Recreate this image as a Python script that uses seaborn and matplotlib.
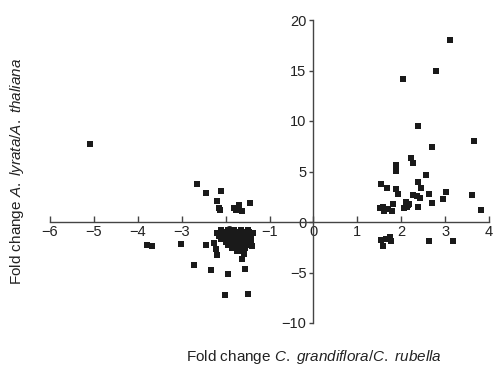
import numpy as np
import pandas as pd
import matplotlib
matplotlib.use("Agg")
import matplotlib.pyplot as plt
import seaborn as sns

# --- DATA ---
# left side, scattered points
left_x = [-5.08, -3.80, -3.67, -3.01, -2.66, -2.44, -2.10, -2.19, -2.14, -2.12,
          -1.81, -1.69, -1.63, -1.45, -1.76,
          -2.44, -2.27, -2.22, -2.19, -2.73, -2.33, -1.94, -1.56, -1.62, -2.02,
          -1.49, -1.59, -1.40]
left_y = [7.7, -2.24, -2.41, -2.18, 3.74, 2.91, 3.04, 2.08, 1.43, 1.2,
          1.43, 1.66, 1.09, 1.92, 1.2,
          -2.31, -2.08, -2.64, -3.23, -4.22, -4.79, -5.12, -4.66, -3.70, -7.2,
          -7.14, -3.14, -2.41]

# dense cluster just below the x axis
blob_x = [-2.10, -1.95, -1.80, -1.65, -1.50,
          -2.20, -2.05, -1.90, -1.75, -1.60, -1.45, -1.38,
          -2.15, -2.00, -1.85, -1.70, -1.55, -1.42,
          -2.10, -1.95, -1.80, -1.65, -1.50,
          -2.00, -1.85, -1.70, -1.55, -1.42,
          -1.95, -1.80, -1.65, -1.50,
          -1.85, -1.70, -1.55,
          -1.75, -1.62,
          -2.02, -1.88, -1.72, -1.58, -1.47, -2.12, -1.97, -1.82, -1.67,
          -1.52, -1.90, -1.76, -1.61, -1.78, -1.64]
blob_y = [-0.8, -0.8, -0.8, -0.8, -0.8,
          -1.1, -1.1, -1.1, -1.1, -1.1, -1.1, -1.1,
          -1.4, -1.4, -1.4, -1.4, -1.4, -1.4,
          -1.7, -1.7, -1.7, -1.7, -1.7,
          -2.0, -2.0, -2.0, -2.0, -2.0,
          -2.3, -2.3, -2.3, -2.3,
          -2.6, -2.6, -2.6,
          -2.9, -2.9,
          -0.95, -0.95, -0.95, -0.95, -0.95, -1.25, -1.25, -1.25, -1.25,
          -1.55, -1.85, -1.85, -1.85, -2.15, -2.45]

# right side
right_x = [3.11, 2.79, 2.04, 2.38, 3.66, 2.70, 2.22, 2.27, 1.88, 1.88,
           2.57, 2.38, 1.53, 1.68, 1.88, 2.45, 1.92, 2.26, 2.37, 2.43,
           2.63, 3.02, 2.95, 3.62, 2.70, 3.82, 2.38,
           1.59, 1.52, 1.61, 1.79, 1.81, 1.71,
           2.10, 2.18, 2.07, 2.13, 2.16,
           1.53, 1.59, 1.66, 1.75, 1.76, 2.64, 3.18]
right_y = [18.0, 14.94, 14.14, 9.48, 8.0, 7.43, 6.34, 5.82, 5.65, 5.05,
           4.66, 3.96, 3.77, 3.37, 3.27, 3.34, 2.77, 2.71, 2.55, 2.38,
           2.75, 2.97, 2.25, 2.65, 1.88, 1.16, 1.46,
           1.49, 1.43, 1.06, 1.13, 1.82, 1.33,
           1.95, 1.75, 1.43, 1.49, 1.69,
           -1.74, -2.41, -1.65, -1.49, -1.88, -1.88, -1.88]

x_ticks = [-6, -5, -4, -3, -2, -1, 0, 1, 2, 3, 4]
y_ticks = [-10, -5, 0, 5, 10, 15, 20]

df = pd.DataFrame({
    "x": left_x + blob_x + right_x,
    "y": left_y + blob_y + right_y,
})

sns.set_style("ticks")
plt.rcParams["font.family"] = ["Liberation Sans", "DejaVu Sans"]
plt.rcParams["mathtext.fontset"] = "custom"
plt.rcParams["mathtext.rm"] = "Liberation Sans"
plt.rcParams["mathtext.it"] = "Liberation Sans:italic"

fig = plt.figure(figsize=(4.94, 3.66), dpi=100)
ax = fig.add_axes([50 / 494, 1 - 323 / 366, 439 / 494, 303 / 366])

sns.scatterplot(data=df, x="x", y="y", ax=ax, marker="s", s=22,
                color="#1a1a1a", linewidth=0, legend=False)

ax.set_xlim(-6, 4)
ax.set_ylim(-10, 20)
ax.set_xticks(x_ticks)
ax.set_yticks(y_ticks)
ax.set_xticklabels(["\u2212" + str(-t) if t < 0 else str(t) for t in x_ticks])
ax.set_yticklabels(["\u2212" + str(-t) if t < 0 else str(t) for t in y_ticks])

for s in ["top", "right"]:
    ax.spines[s].set_visible(False)
ax.spines["left"].set_position(("data", 0))
ax.spines["bottom"].set_position(("data", 0))
for s in ["left", "bottom"]:
    ax.spines[s].set_color("#444444")
    ax.spines[s].set_linewidth(1.0)

ax.tick_params(axis="x", direction="in", length=4.5, width=1.0, color="#444444",
               labelsize=10.5, pad=2, labelcolor="#222222")
ax.tick_params(axis="y", direction="out", length=3, width=1.0, color="#444444",
               labelsize=10.5, pad=2, labelcolor="#222222")
ax.set_xlabel("")
ax.set_ylabel("")

fig.text(314 / 494, 1 - 357 / 366,
         r"Fold change $\mathit{C.\ grandiflora}$/$\mathit{C.\ rubella}$",
         ha="center", va="center", fontsize=11, color="#222222")
fig.text(17 / 494, 1 - 172 / 366,
         r"Fold change $\mathit{A.\ lyrata}$/$\mathit{A.\ thaliana}$",
         ha="center", va="center", rotation=90, fontsize=11, color="#222222")

fig.savefig("out.png", dpi=100)
